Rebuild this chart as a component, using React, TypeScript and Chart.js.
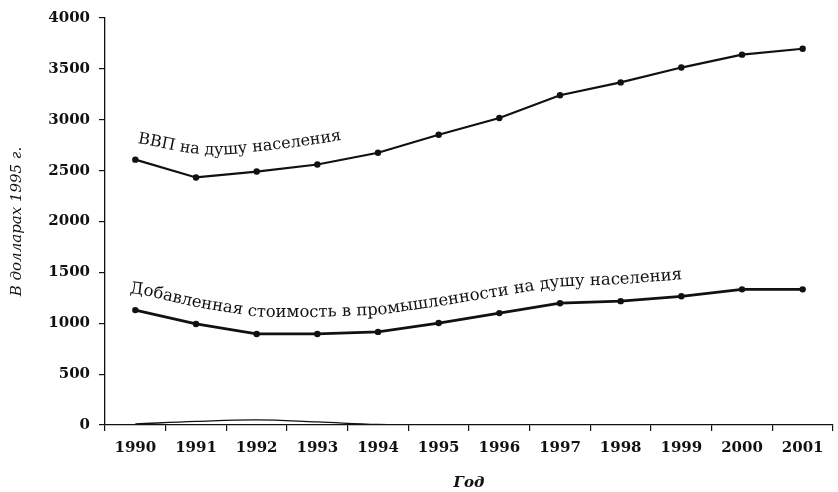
import { useEffect, useRef } from "react";
import { Chart, registerables } from "chart.js";

Chart.register(...registerables);

const years = ["1990", "1991", "1992", "1993", "1994", "1995", "1996", "1997", "1998", "1999", "2000", "2001"];
const gdpPerCapita = [2608, 2433, 2491, 2560, 2676, 2852, 3017, 3241, 3367, 3513, 3640, 3698];
const industryValueAdded = [1129, 993, 895, 895, 915, 1002, 1100, 1197, 1217, 1265, 1333, 1333];
const baselineTrace = [10, 35, 50, 30, 5, 0, 0, 0, 0, 0, 0, 0];
const yTickValues = [0, 500, 1000, 1500, 2000, 2500, 3000, 3500, 4000];
const gdpLabel = "ВВП на душу населения";
const industryLabel = "Добавленная стоимость в промышленности на душу населения";
const yTitle = "В долларах 1995 г.";
const xTitle = "Год";

const INK = "#111111";
const SERIF = "'DejaVu Serif', 'Liberation Serif', serif";

type Pt = { x: number; y: number };

function makeYAt(pts: Pt[]) {
  return (x: number) => {
    if (x <= pts[0].x) return pts[0].y;
    const last = pts[pts.length - 1];
    if (x >= last.x) return last.y;
    for (let i = 0; i < pts.length - 1; i++) {
      const a = pts[i], b = pts[i + 1];
      if (x >= a.x && x <= b.x) {
        const t = (x - a.x) / (b.x - a.x);
        return a.y + t * (b.y - a.y);
      }
    }
    return last.y;
  };
}

function drawAlong(ctx: CanvasRenderingContext2D, pts: Pt[], text: string, dx: number, offset: number, win: number) {
  const yAt = makeYAt(pts);
  const smooth = (x: number) => {
    if (win <= 0) return yAt(x);
    let s = 0, n = 0;
    for (let k = -win; k <= win; k += 2) { s += yAt(x + k); n++; }
    return s / n;
  };
  let x = pts[0].x + dx;
  ctx.textAlign = "center";
  ctx.textBaseline = "alphabetic";
  for (const ch of text) {
    const w = ctx.measureText(ch).width;
    const cx = x + w / 2;
    const y = smooth(cx);
    const ang = Math.atan2(smooth(cx + 4) - smooth(cx - 4), 8);
    ctx.save();
    ctx.translate(cx, y - offset);
    ctx.rotate(ang);
    ctx.fillText(ch, 0, 0);
    ctx.restore();
    x += w * Math.cos(ang);
  }
}

const labelPlugin = {
  id: "curvedLabels",
  afterDatasetsDraw(chart: any) {
    const ctx: CanvasRenderingContext2D = chart.ctx;
    const ptsOf = (i: number) => chart.getDatasetMeta(i).data.map((e: any) => ({ x: e.x, y: e.y }));
    ctx.save();
    ctx.fillStyle = INK;
    ctx.font = `16px ${SERIF}`;
    drawAlong(ctx, ptsOf(0), gdpLabel, 2, 20, 40);
    ctx.font = `16.5px ${SERIF}`;
    drawAlong(ctx, ptsOf(1), industryLabel, -6, 17, 10);
    ctx.restore();
  },
};

export default function App() {
  const ref = useRef<HTMLCanvasElement | null>(null);
  useEffect(() => {
    document.body.style.margin = "0";
    const canvas = ref.current!;
    const chart = new Chart(canvas, {
      type: "line",
      data: {
        labels: years,
        datasets: [
          {
            label: gdpLabel,
            data: gdpPerCapita,
            borderColor: INK,
            backgroundColor: INK,
            borderWidth: 2.2,
            pointRadius: 3.2,
            pointBackgroundColor: INK,
            pointBorderWidth: 0,
            tension: 0,
          },
          {
            label: industryLabel,
            data: industryValueAdded,
            borderColor: INK,
            backgroundColor: INK,
            borderWidth: 2.8,
            pointRadius: 3.2,
            pointBackgroundColor: INK,
            pointBorderWidth: 0,
            tension: 0,
          },
          {
            label: "baseline",
            data: baselineTrace,
            borderColor: INK,
            borderWidth: 1.3,
            pointRadius: 0,
            tension: 0.4,
          },
        ],
      },
      options: {
        animation: false,
        responsive: false,
        maintainAspectRatio: false,
        layout: { padding: { top: 14, right: 5, left: 0, bottom: 0 } },
        plugins: { legend: { display: false }, tooltip: { enabled: false } },
        scales: {
          x: {
            type: "category",
            offset: true,
            grid: { offset: true, drawOnChartArea: false, drawTicks: true, tickLength: 6, color: INK, lineWidth: 1.2 },
            border: { display: true, color: INK, width: 1.3 },
            ticks: { color: INK, font: { family: SERIF, size: 15, weight: "bold" }, padding: 8, maxRotation: 0, autoSkip: false },
            title: { display: true, text: xTitle, color: INK, font: { family: SERIF, size: 15, style: "italic", weight: "bold" }, padding: { top: 0, bottom: 0 } },
            afterFit: (s: any) => { s.height = 67; },
          },
          y: {
            min: 0,
            max: 4000,
            afterBuildTicks: (s: any) => { s.ticks = yTickValues.map((v) => ({ value: v })); },
            grid: { drawOnChartArea: false, drawTicks: true, tickLength: 6, color: INK, lineWidth: 1.2 },
            border: { display: true, color: INK, width: 1.3 },
            ticks: { color: INK, font: { family: SERIF, size: 15, weight: "bold" }, padding: 9, callback: (v: any) => String(v) },
            title: { display: true, text: yTitle, color: INK, font: { family: SERIF, size: 15, style: "italic" }, padding: { top: 8, bottom: 0 } },
            afterFit: (s: any) => { s.width = 105; },
          },
        },
      },
      plugins: [labelPlugin],
    } as any);
    return () => chart.destroy();
  }, []);
  return (
    <div style={{ width: 838, height: 492 }}>
      <canvas ref={ref} width={838} height={492} style={{ display: "block", width: 838, height: 492 }} />
    </div>
  );
}
